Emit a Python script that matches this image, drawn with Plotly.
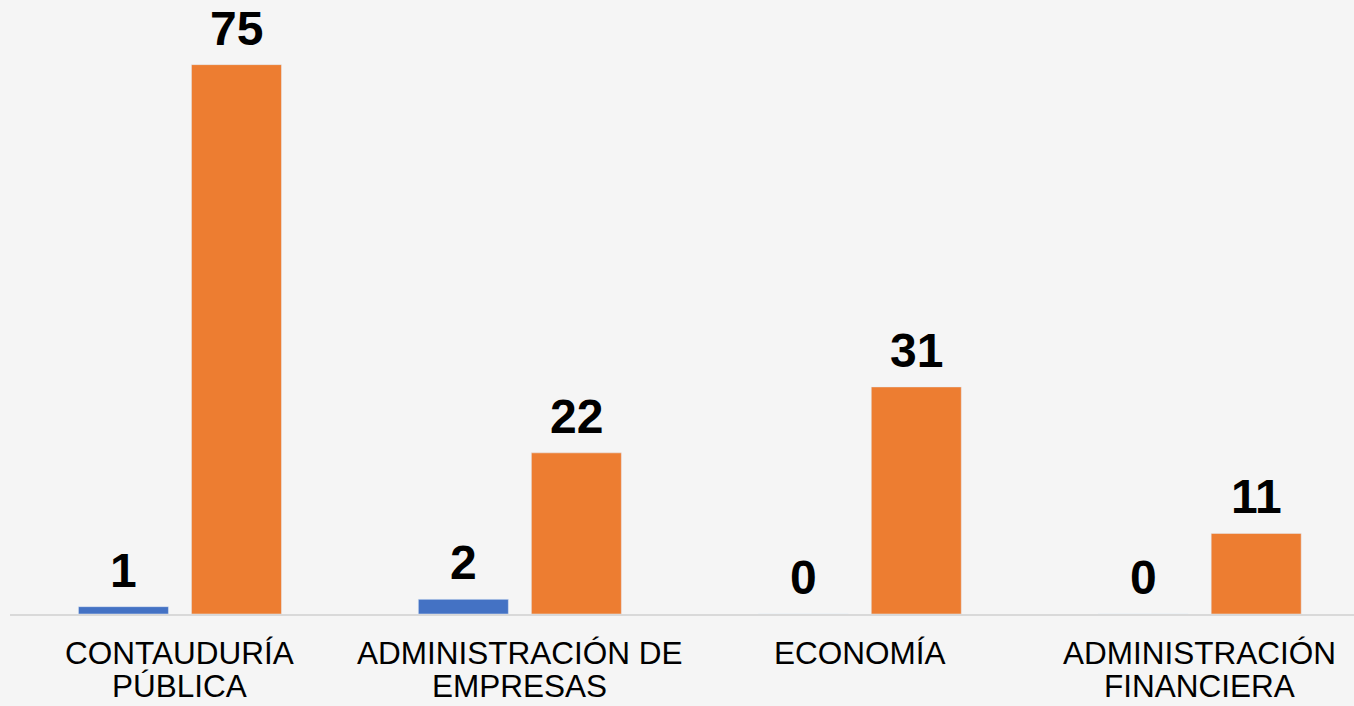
import plotly.graph_objects as go

# Data
categories = ["CONTAUDURÍA<br>PÚBLICA", "ADMINISTRACIÓN DE<br>EMPRESAS",
              "ECONOMÍA", "ADMINISTRACIÓN<br>FINANCIERA"]
serie_azul = [1, 2, 0, 0]
serie_naranja = [75, 22, 31, 11]

AZUL = "#4472C4"
NARANJA = "#ED7D31"
FONT = "Arial, Liberation Sans, sans-serif"

fig = go.Figure()
fig.add_trace(go.Bar(x=categories, y=serie_azul, marker_color=AZUL,
                     name="Serie 1", hoverinfo="x+y"))
fig.add_trace(go.Bar(x=categories, y=serie_naranja, marker_color=NARANJA,
                     name="Serie 2", hoverinfo="x+y"))

annotations = []
# Value labels above each bar
for i, cat in enumerate(categories):
    for val, shift in ((serie_azul[i], -56.5), (serie_naranja[i], 56.5)):
        annotations.append(dict(
            x=cat, y=val, xref="x", yref="y",
            text=f"<b>{val}</b>", showarrow=False,
            xanchor="center", yanchor="bottom",
            xshift=shift, yshift=8,
            font=dict(family=FONT, size=48, color="#000000"),
        ))

# Category labels, one annotation per line (tighter line spacing than ticks)
for cat in categories:
    for k, line in enumerate(cat.split("<br>")):
        annotations.append(dict(
            x=cat, y=0, xref="x", yref="y",
            text=line, showarrow=False,
            xanchor="center", yanchor="top",
            yshift=-19 - 33 * k,
            font=dict(family=FONT, size=31.5, color="#000000"),
        ))

fig.update_layout(
    width=1354, height=706,
    margin=dict(l=10, r=0, t=28, b=92),
    paper_bgcolor="#F5F5F5",
    plot_bgcolor="rgba(0,0,0,0)",
    barmode="group",
    bargap=0.335,
    bargroupgap=0.2035,
    showlegend=False,
    annotations=annotations,
    font=dict(family=FONT, color="#000000"),
)
fig.update_xaxes(
    range=[-0.5, 3.454],
    showline=True, linecolor="#D9D9D9", linewidth=2,
    showgrid=False, ticks="", showticklabels=False,
)
fig.update_yaxes(range=[0, 80], visible=False, showgrid=False)

# drop the default 8px body margin so the figure fills the window
fig.write_html("out.html",
               config={"displayModeBar": False},
               post_script="document.body.style.margin='0';"
                           "document.body.style.background='#F5F5F5';")
